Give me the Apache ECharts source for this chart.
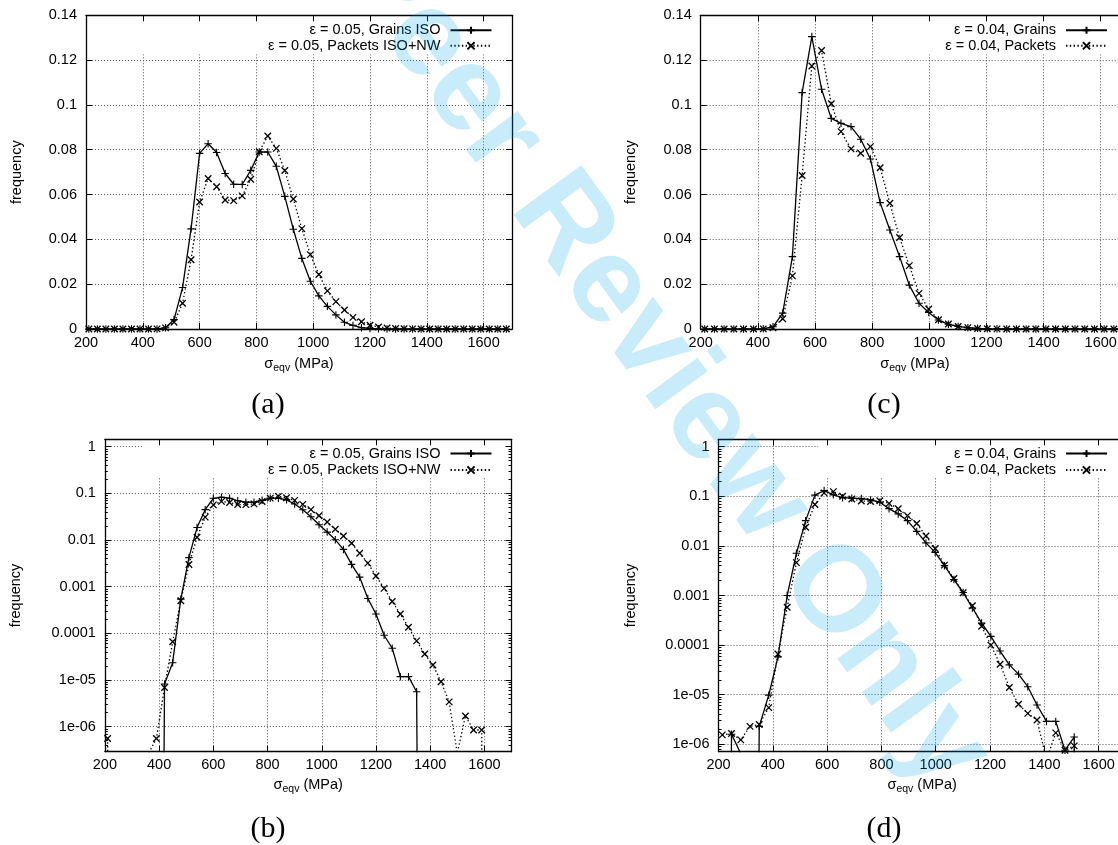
<!DOCTYPE html>
<html>
<head>
<meta charset="utf-8">
<script src="https://cdn.jsdelivr.net/npm/echarts@6/dist/echarts.min.js"></script>
<style>
  html, body { margin: 0; padding: 0; background: #fff; }
  #main { width: 1118px; height: 845px; }
</style>
</head>
<body>
<div id="main"></div>
<script>
// stress bins (MPa), panels (a) and (b)
const binsA = [210, 240, 270, 300, 330, 360, 390, 420, 450, 480, 510, 540, 570, 600, 630, 660, 690, 720, 750, 780,
  810, 840, 870, 900, 930, 960, 990, 1020, 1050, 1080, 1110, 1140, 1170, 1200, 1230, 1260, 1290, 1320, 1350, 1380,
  1410, 1440, 1470, 1500, 1530, 1560, 1590, 1620, 1650, 1680]
const grainsA = [0, 0, 0, 0, 0, 0, 0, 8.2e-6, 2.35e-5, 5.4e-4, 4.2e-3, 0.0185, 0.0447, 0.0784, 0.0827, 0.0788, 0.0694,
  0.0646, 0.0645, 0.0708, 0.079, 0.079, 0.0726, 0.0592, 0.0445, 0.0315, 0.0213, 0.0148, 0.0101, 0.0063, 0.003, 0.0016,
  5.6e-4, 2.6e-4, 9.1e-5, 4.8e-5, 1.18e-5, 1.18e-5, 5.6e-6, 0, 0, 0, 0, 0, 0, 0, 0, 0, 0, 0]
const packetsA = [5.6e-7, 0, 0, 0, 0, 2.6e-7, 5.6e-7, 6.9e-6, 6.6e-5, 5.0e-4, 3.0e-3, 0.0115, 0.0309, 0.0567, 0.0672,
  0.0635, 0.0576, 0.0573, 0.0594, 0.0668, 0.0791, 0.0861, 0.0806, 0.0707, 0.058, 0.0448, 0.0332, 0.0243, 0.017, 0.0122,
  0.0085, 0.0052, 0.0032, 0.0017, 9.2e-4, 4.8e-4, 2.6e-4, 1.35e-4, 6.9e-5, 3.6e-5, 2.1e-5, 9.2e-6, 3.4e-6, 2.7e-7,
  1.7e-6, 8.5e-7, 8.5e-7, 0, 0, 0]
const namesA = ['ε = 0.05, Grains ISO', 'ε = 0.05, Packets ISO+NW']

// stress bins (MPa), panels (c) and (d)
const binsC = [214, 248, 282, 316, 350, 385, 419, 453, 487, 521, 555, 589, 623, 657, 691, 726, 760, 794, 828, 862,
  896, 930, 964, 998, 1032, 1067, 1101, 1135, 1169, 1203, 1237, 1271, 1305, 1339, 1373, 1408, 1442, 1476, 1510, 1544,
  1578, 1612, 1646, 1680]
const grainsC = [0, 1.6e-6, 6.5e-7, 0, 2.3e-6, 9.8e-6, 5.8e-5, 1.0e-3, 7.1e-3, 0.0323, 0.1055, 0.1305, 0.107, 0.094,
  0.0918, 0.0903, 0.0847, 0.0759, 0.0564, 0.0442, 0.0323, 0.0196, 0.0115, 0.0074, 0.004, 0.0021, 0.00115, 5.6e-4,
  2.8e-4, 1.5e-4, 7.6e-5, 4.0e-5, 2.6e-5, 1.45e-5, 6.2e-6, 2.9e-6, 2.9e-6, 7.6e-7, 1.4e-6, 0, 0, 0, 0, 0]
const packetsC = [1.55e-6, 1.65e-6, 1.23e-6, 2.3e-6, 2.5e-6, 5.5e-6, 6.6e-5, 5.8e-4, 4.6e-3, 0.0237, 0.0685, 0.1174,
  0.1243, 0.1005, 0.0881, 0.0804, 0.0784, 0.0814, 0.072, 0.0561, 0.0408, 0.0283, 0.0159, 0.0089, 0.0041, 0.0022,
  0.00114, 6.2e-4, 2.4e-4, 1.0e-4, 4.1e-5, 1.4e-5, 6.4e-6, 4.2e-6, 3.1e-6, 4.9e-7, 1.7e-6, 7.6e-7, 9.3e-7, 0, 0, 0, 0, 0]
const namesC = ['ε = 0.04, Grains', 'ε = 0.04, Packets']

// axis ranges and tick labels
const xMin = 200
const xMax = 1700
const xStep = 200
const linMin = 0
const linMax = 0.14
const linStep = 0.02
const logText = ['1', '0.1', '0.01', '0.001', '0.0001', '1e-05', '1e-06']

const FONT = 'Liberation Sans'
const TXT = { color: '#000', fontFamily: FONT, fontSize: 14.5 }
const PLUS = 'path://M0,5L10,5M5,0L5,10'
const CROSS = 'path://M0,0L10,10M10,0L0,10'

const panels = [
  {
    log: false, bins: binsA, grains: grainsA, packets: packetsA, names: namesA,
    grid: { left: 86, top: 15.3, width: 426, height: 313.7 },
    xNameGap: 25, yNameGap: 62,
    key: { right: 607, top: 16, padding: [6.75, 18.5, 1, 127], itemGap: 0.5 },
    caption: { text: '(a)', x: 268, y: 405 },
  },
  {
    log: true, yMin: 2.91e-7, yMax: 1.44, bins: binsA, grains: grainsA, packets: packetsA, names: namesA,
    grid: { left: 104.9, top: 439.3, width: 406.6, height: 312.4 },
    xNameGap: 23, yNameGap: 81,
    key: { right: 607, top: 440, padding: [6, 18.5, 0.5, 126], itemGap: 1.5 },
    caption: { text: '(b)', x: 268, y: 829 },
  },
  {
    log: false, bins: binsC, grains: grainsC, packets: packetsC, names: namesC,
    grid: { left: 700.7, top: 15.3, width: 428.6, height: 313.7 },
    xNameGap: 25, yNameGap: 62,
    key: { right: -11, top: 16, padding: [6.75, 21, 1, 40], itemGap: 0.5 },
    caption: { text: '(c)', x: 884, y: 405 },
  },
  {
    log: true, yMin: 7.1e-7, yMax: 1.41, bins: binsC, grains: grainsC, packets: packetsC, names: namesC,
    grid: { left: 718.5, top: 439.3, width: 407.3, height: 312.4 },
    xNameGap: 23, yNameGap: 80,
    key: { right: -7, top: 440, padding: [6, 17, 0.5, 127], itemGap: 1.5 },
    caption: { text: '(d)', x: 884, y: 829 },
  },
]

// minor ticks of the log axes (2..9 in every decade), given as exponents
const minorExp = []
for (let e = -7; e <= 0; e++) {
  for (let m = 2; m <= 9; m++) minorExp.push(e + Math.log10(m))
}

function toPairs (xs, ys, log) {
  // zero counts cannot sit on a log axis: push them far below the frame
  return xs.map((x, i) => [x, log && !(ys[i] > 0) ? 1e-30 : ys[i]])
}

function logLabel (v) {
  const l = Math.log10(v)
  const e = Math.round(l)
  if (Math.abs(l - e) > 1e-6 || e > 0 || e < -6) return ''
  return logText[-e]
}

const border = { show: true, onZero: false, lineStyle: { color: '#000', width: 1.3 } }
const majorTick = { show: true, inside: true, length: 6, lineStyle: { color: '#000', width: 1 } }
const gridLine = { show: true, lineStyle: { color: '#555', width: 1, type: [1, 2] } }
const off = { show: false }

const grids = []
const xAxes = []
const yAxes = []
const series = []
const legends = []
const graphics = []

panels.forEach((p, gi) => {
  grids.push(Object.assign({ show: false, containLabel: false, outerBoundsMode: 'none' }, p.grid))

  const xBase = { gridIndex: gi, type: 'value', min: xMin, max: xMax, interval: xStep }
  xAxes.push(Object.assign({}, xBase, {
    position: 'bottom',
    name: '{s|σ}{b|eqv}{s| (MPa)}',
    nameLocation: 'middle',
    nameGap: p.xNameGap,
    nameTextStyle: {
      rich: {
        s: { color: '#000', fontFamily: FONT, fontSize: 14.5, lineHeight: 20 },
        b: { color: '#000', fontFamily: FONT, fontSize: 10.5, lineHeight: 20, verticalAlign: 'bottom' },
      },
    },
    axisLine: border,
    axisTick: majorTick,
    axisLabel: Object.assign({ margin: 6, showMaxLabel: false, formatter: v => String(v) }, TXT),
    splitLine: gridLine,
  }))
  xAxes.push(Object.assign({}, xBase, {
    position: 'top', z: 10, axisLine: border, axisTick: majorTick, axisLabel: off, splitLine: off,
  }))

  const yBase = p.log
    ? { gridIndex: gi, type: 'log', logBase: 10, min: p.yMin, max: p.yMax, splitNumber: 7 }
    : { gridIndex: gi, type: 'value', min: linMin, max: linMax, interval: linStep }
  const yMain = yAxes.length
  yAxes.push(Object.assign({}, yBase, {
    position: 'left',
    name: 'frequency',
    nameLocation: 'middle',
    nameGap: p.yNameGap,
    nameTextStyle: TXT,
    axisLine: border,
    axisTick: majorTick,
    axisLabel: Object.assign({ margin: 9 }, TXT, p.log
      ? { formatter: logLabel, showMinLabel: false, showMaxLabel: false }
      : {}),
    splitLine: gridLine,
  }))
  yAxes.push(Object.assign({}, yBase, {
    position: 'right', z: 10, axisLine: border, axisTick: majorTick, axisLabel: off, splitLine: off,
  }))
  if (p.log) {
    // same frame in exponent units, carrying only the short minor ticks
    const lo = Math.log10(p.yMin)
    const hi = Math.log10(p.yMax)
    const minors = minorExp.filter(v => v > lo && v < hi)
    ;['left', 'right'].forEach(pos => {
      yAxes.push({
        gridIndex: gi, type: 'value', min: lo, max: hi, position: pos, z: 10,
        axisLine: off,
        axisTick: { show: true, inside: true, length: 3, customValues: minors, lineStyle: { color: '#000', width: 1 } },
        axisLabel: { show: false, customValues: minors },
        splitLine: off,
      })
    })
  }

  series.push({
    type: 'line', name: p.names[0], xAxisIndex: 2 * gi, yAxisIndex: yMain,
    data: toPairs(p.bins, p.grains, p.log),
    symbol: PLUS, symbolSize: 7.5, showSymbol: true, showAllSymbol: true,
    lineStyle: { color: '#000', width: 1.3 },
    itemStyle: { color: '#000', borderColor: '#000', borderWidth: 1.1 },
    z: 5, silent: true, clip: true,
  })
  series.push({
    type: 'line', name: p.names[1], xAxisIndex: 2 * gi, yAxisIndex: yMain,
    data: toPairs(p.bins, p.packets, p.log),
    symbol: CROSS, symbolSize: 6.5, showSymbol: true, showAllSymbol: true,
    lineStyle: { color: '#000', width: 1.3, type: [1.4, 2.4] },
    itemStyle: { color: '#000', borderColor: '#000', borderWidth: 1.3 },
    z: 5, silent: true, clip: true,
  })

  legends.push({
    show: true,
    data: p.names,
    orient: 'vertical',
    align: 'right',
    right: p.key.right,
    top: p.key.top,
    padding: p.key.padding,
    itemGap: p.key.itemGap,
    itemWidth: 41,
    itemHeight: 9,
    backgroundColor: '#fff',
    selectedMode: false,
    textStyle: Object.assign({ padding: [0, 5, 0, 0] }, TXT),
  })

  graphics.push({
    type: 'text', x: p.caption.x, y: p.caption.y, silent: true,
    style: { text: p.caption.text, font: '30px "Liberation Serif"', fill: '#000', align: 'center', verticalAlign: 'middle' },
  })
})

// review stamp lying over the whole page
graphics.push({
  type: 'text', x: 360, y: -53, rotation: -53.9 * Math.PI / 180, z: 100, silent: true,
  style: {
    text: 'Peer Review Only', font: 'bold 122px "Liberation Sans"', fill: 'rgba(0, 165, 235, 0.21)',
    align: 'left', verticalAlign: 'middle',
  },
})

const chart = echarts.init(document.getElementById('main'))
chart.setOption({
  animation: false,
  backgroundColor: '#fff',
  grid: grids,
  xAxis: xAxes,
  yAxis: yAxes,
  legend: legends,
  series: series,
  graphic: { elements: graphics },
})
</script>
</body>
</html>
